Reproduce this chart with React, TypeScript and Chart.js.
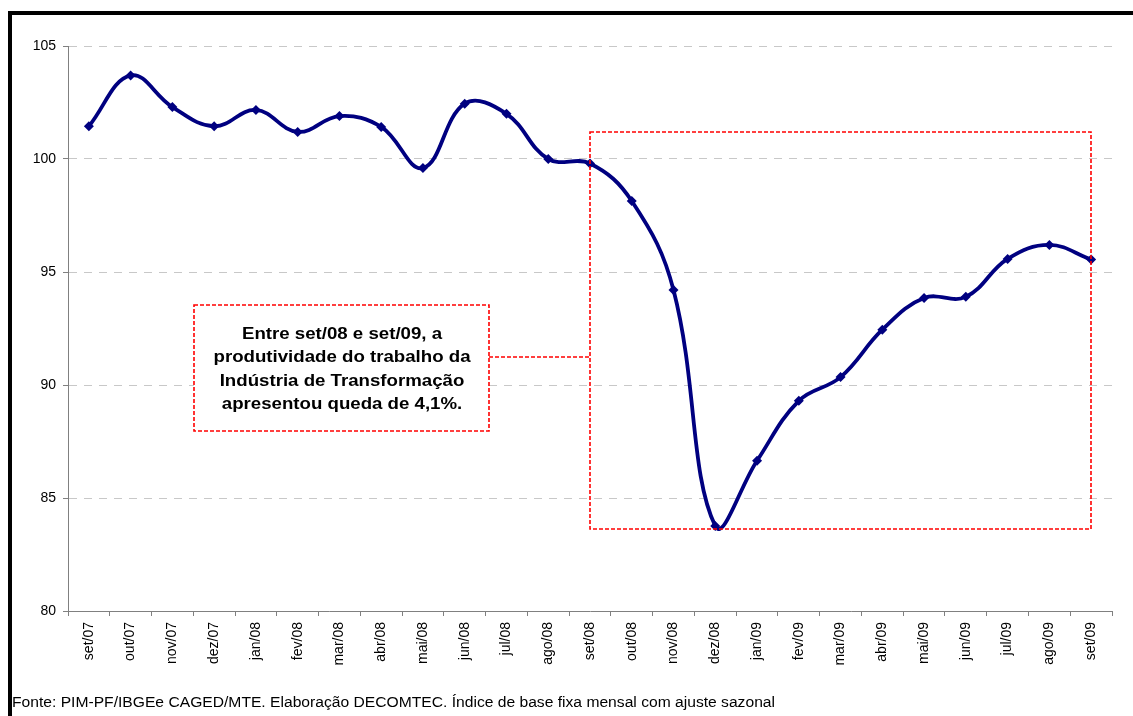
import React, { useEffect, useRef } from "react";
import { Chart, registerables } from "chart.js";

Chart.register(...registerables);

const categories = [
  "set/07", "out/07", "nov/07", "dez/07", "jan/08", "fev/08", "mar/08", "abr/08",
  "mai/08", "jun/08", "jul/08", "ago/08", "set/08", "out/08", "nov/08", "dez/08",
  "jan/09", "fev/09", "mar/09", "abr/09", "mai/09", "jun/09", "jul/09", "ago/09", "set/09",
];
const productivity = [
  101.45, 103.7, 102.3, 101.45, 102.17, 101.2, 101.9, 101.42,
  99.6, 102.45, 102.0, 100.0, 99.8, 98.14, 94.2, 83.76,
  86.65, 89.3, 90.35, 92.45, 93.85, 93.9, 95.58, 96.2, 95.55,
];
const yTicks = [80, 85, 90, 95, 100, 105];
const highlightRange = { from: "set/08", to: "set/09", top: 101.2, bottom: 83.62 };
const noteLines = [
  "Entre set/08 e set/09, a",
  "produtividade do trabalho da",
  "Indústria de Transformação",
  "apresentou queda de 4,1%.",
];
const sourceText =
  "Fonte: PIM-PF/IBGEe CAGED/MTE. Elaboração DECOMTEC. Índice de base fixa mensal com ajuste sazonal";

const FONT = "'Liberation Sans', Arial, sans-serif";

function drawStretched(ctx: any, text: string, x: number, y: number, sx: number) {
  ctx.save();
  ctx.translate(x, y);
  ctx.scale(sx, 1);
  ctx.fillText(text, 0, 0);
  ctx.restore();
}

const decorPlugin = {
  id: "decor",
  beforeDraw(chart: any) {
    const ctx = chart.ctx;
    ctx.save();
    ctx.fillStyle = "#ffffff";
    ctx.fillRect(0, 0, chart.width, chart.height);
    ctx.restore();
  },
  afterDraw(chart: any) {
    const ctx = chart.ctx;
    const x = chart.scales.x;
    const y = chart.scales.y;
    ctx.save();
    // outer frame
    ctx.strokeStyle = "#000000";
    ctx.lineWidth = 4;
    ctx.strokeRect(10, 13, chart.width + 40, chart.height + 40);

    // highlight box
    const x1 = Math.round(x.getPixelForValue(categories.indexOf(highlightRange.from)));
    const x2 = Math.round(x.getPixelForValue(categories.indexOf(highlightRange.to)));
    const yTop = Math.round(y.getPixelForValue(highlightRange.top));
    const yBot = Math.round(y.getPixelForValue(highlightRange.bottom));
    ctx.strokeStyle = "#ff0000";
    ctx.lineWidth = 1.6;
    ctx.setLineDash([4, 2]);
    ctx.strokeRect(x1, yTop, x2 - x1, yBot - yTop);

    // note box
    const bx = 194, by = 305, bw = 295, bh = 126;
    ctx.fillStyle = "#ffffff";
    ctx.fillRect(bx, by, bw, bh);
    ctx.strokeRect(bx, by, bw, bh);
    // connector
    ctx.beginPath();
    ctx.moveTo(bx + bw, 357);
    ctx.lineTo(x1, 357);
    ctx.stroke();
    ctx.setLineDash([]);

    ctx.fillStyle = "#000000";
    ctx.font = `bold 17px ${FONT}`;
    ctx.textAlign = "center";
    ctx.textBaseline = "middle";
    const widest = Math.max(...noteLines.map((l) => ctx.measureText(l).width));
    const sNote = 257 / widest;
    noteLines.forEach((line, i) => {
      drawStretched(ctx, line, bx + bw / 2 + 0.5, 334 + i * 23.5, sNote);
    });

    ctx.font = `14px ${FONT}`;
    ctx.textAlign = "left";
    ctx.textBaseline = "middle";
    const sSrc = 763 / ctx.measureText(sourceText).width;
    drawStretched(ctx, sourceText, 12, 703, sSrc);
    ctx.restore();
  },
};

export default function App() {
  const canvasRef = useRef<HTMLCanvasElement | null>(null);

  useEffect(() => {
    document.body.style.margin = "0";
    const canvas = canvasRef.current;
    if (!canvas) return;
    const chart = new Chart(canvas, {
      type: "line",
      data: {
        labels: categories,
        datasets: [
          {
            data: productivity,
            borderColor: "#000080",
            backgroundColor: "#000080",
            borderWidth: 3.8,
            tension: 0.4,
            pointStyle: "rectRot",
            pointRadius: 5,
            pointBorderWidth: 0,
            pointBackgroundColor: "#000080",
          },
        ],
      },
      options: {
        animation: false,
        responsive: false,
        maintainAspectRatio: false,
        layout: { padding: { left: 0, top: 46, right: 21, bottom: 0 } },
        plugins: {
          legend: { display: false },
          tooltip: { enabled: false },
        },
        scales: {
          x: {
            type: "category",
            offset: true,
            grid: {
              offset: true,
              drawOnChartArea: false,
              drawTicks: true,
              tickLength: 5,
              color: "#808080",
            },
            border: { display: true, color: "#808080", width: 1 },
            ticks: {
              minRotation: 90,
              maxRotation: 90,
              autoSkip: false,
              color: "#000000",
              padding: 6,
              font: { family: FONT, size: 14 },
            },
            afterFit(scale: any) {
              scale.height = 105;
            },
          },
          y: {
            min: 80,
            max: 105,
            afterBuildTicks(scale: any) {
              scale.ticks = yTicks.map((v) => ({ value: v }));
            },
            grid: {
              color: (c: any) => (c.tick && c.tick.value === 80 ? "rgba(0,0,0,0)" : "#c8c8c8"),
              tickColor: "#808080",
              drawTicks: true,
              tickLength: 5,
              tickBorderDash: [],
            },
            border: { display: true, color: "#808080", width: 1, dash: [8, 7] },
            ticks: {
              color: "#000000",
              padding: 7,
              font: { family: FONT, size: 14 },
            },
            afterFit(scale: any) {
              scale.width = 68;
            },
          },
        },
      },
      plugins: [decorPlugin],
    });
    return () => chart.destroy();
  }, []);

  return (
    <div style={{ position: "absolute", left: 0, top: 0, width: 1133, height: 716, overflow: "hidden" }}>
      <canvas ref={canvasRef} width={1133} height={716} style={{ width: 1133, height: 716, display: "block" }} />
    </div>
  );
}
